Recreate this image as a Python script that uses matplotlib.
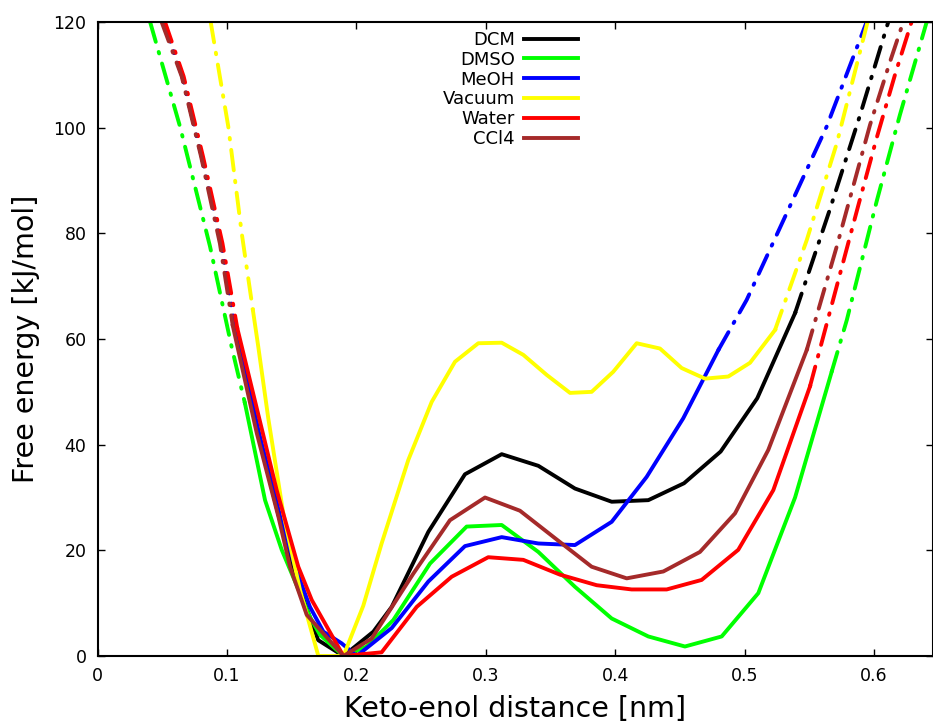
import numpy as np
import matplotlib.pyplot as plt

labels = ["DCM", "DMSO", "MeOH", "Vacuum", "Water", "CCl4"]
colors = ["black", "#00ff00", "#0000ff", "#ffff00", "#ff0000", "#a52a2a"]

# keto-enol distance [nm] / free energy [kJ/mol]
dcm_x = [0.0510, 0.0655, 0.0805, 0.0955, 0.1060, 0.1220, 0.1400, 0.1550, 0.1705, 0.1900,
         0.2131, 0.2273, 0.2556, 0.2839, 0.3123, 0.3406, 0.3689, 0.3973, 0.4256, 0.4532,
         0.4815, 0.5098, 0.5390, 0.5660, 0.5890, 0.6110]
dcm_y = [120, 109.7, 94.5, 78.1, 62.0, 44.0, 26.5, 13.5, 3.0, 0.0,
         4.6, 9.3, 23.5, 34.4, 38.2, 36.0, 31.7, 29.2, 29.5, 32.7,
         38.7, 48.8, 64.9, 84.6, 102.2, 120]

dmso_x = [0.0406, 0.0637, 0.0869, 0.1036, 0.1139, 0.1294, 0.1423, 0.1641, 0.1719, 0.1900,
          0.2080, 0.2285, 0.2569, 0.2852, 0.3123, 0.3406, 0.3689, 0.3973, 0.4256, 0.4539,
          0.4823, 0.5106, 0.5390, 0.5673, 0.5790, 0.6020, 0.6200, 0.6407]
dmso_y = [120, 100.2, 77.5, 58.5, 47.8, 29.5, 20.1, 7.4, 4.0, 0.0,
          1.8, 6.8, 17.5, 24.5, 24.8, 19.7, 13.1, 7.1, 3.7, 1.8,
          3.7, 11.9, 30.0, 53.8, 63.6, 86.0, 102.4, 120]

meoh_x = [0.0508, 0.0655, 0.0805, 0.0955, 0.1065, 0.1250, 0.1400, 0.1526, 0.1641, 0.1745,
          0.1886, 0.2002, 0.2273, 0.2556, 0.2839, 0.3123, 0.3406, 0.3689, 0.3973, 0.4243,
          0.4526, 0.4797, 0.5016, 0.5325, 0.5634, 0.5943]
meoh_y = [120, 109.7, 94.5, 78.1, 62.0, 42.0, 27.5, 16.9, 9.3, 4.6,
          2.4, 0.0, 5.3, 14.1, 20.8, 22.5, 21.3, 21.0, 25.4, 33.9,
          45.0, 57.9, 67.4, 83.8, 100.2, 120]

vac_x = [0.0874, 0.1010, 0.1114, 0.1200, 0.1242, 0.1319, 0.1435, 0.1564, 0.1706, 0.1900,
         0.2053, 0.2195, 0.2401, 0.2582, 0.2762, 0.2942, 0.3123, 0.3290, 0.3471, 0.3651,
         0.3818, 0.3985, 0.4166, 0.4346, 0.4514, 0.4694, 0.4874, 0.5042, 0.5235, 0.5480,
         0.5712, 0.5948]
vac_y = [120, 100.2, 80.0, 65.5, 58.5, 45.0, 27.0, 12.5, 0.0, 0.0,
         9.5, 21.3, 37.1, 48.1, 55.7, 59.2, 59.3, 57.0, 53.2, 49.8,
         50.0, 53.8, 59.2, 58.2, 54.5, 52.5, 52.9, 55.5, 61.7, 78.7,
         97.0, 119.8]

water_x = [0.0521, 0.0665, 0.0815, 0.0965, 0.1080, 0.1384, 0.1551, 0.1655, 0.1900, 0.2195,
           0.2466, 0.2736, 0.3019, 0.3290, 0.3573, 0.3857, 0.4127, 0.4398, 0.4668, 0.4951,
           0.5222, 0.5505, 0.5880, 0.6020, 0.6162, 0.6290]
water_y = [120, 109.7, 94.5, 78.1, 62.0, 31.4, 16.9, 10.6, 0.0, 0.7,
           9.3, 15.0, 18.7, 18.2, 15.4, 13.4, 12.6, 12.6, 14.4, 20.1,
           31.4, 51.0, 85.4, 98.0, 110.0, 120]

ccl4_x = [0.0495, 0.0650, 0.0800, 0.0945, 0.1045, 0.1230, 0.1397, 0.1487, 0.1616, 0.1900,
          0.2118, 0.2440, 0.2723, 0.2994, 0.3264, 0.3535, 0.3818, 0.4089, 0.4372, 0.4655,
          0.4926, 0.5183, 0.5480, 0.5712, 0.5969, 0.6124, 0.6226]
ccl4_y = [120, 109.7, 94.5, 78.1, 62.5, 42.2, 26.4, 16.9, 7.8, 0.0,
          3.3, 15.6, 25.7, 30.0, 27.5, 22.3, 16.9, 14.7, 16.0, 19.7,
          27.0, 39.0, 57.9, 77.5, 100.5, 112.5, 120]

# sampled range (solid); outside it the curves are dash-dotted
solid_lo = [0.1060, 0.1139, 0.1065, 0.1200, 0.1080, 0.1045]
solid_hi = [0.5390, 0.5673, 0.4797, 0.5235, 0.5505, 0.5480]

series = [(dcm_x, dcm_y), (dmso_x, dmso_y), (meoh_x, meoh_y),
          (vac_x, vac_y), (water_x, water_y), (ccl4_x, ccl4_y)]

fig = plt.figure(figsize=(9.33, 7.22), dpi=100)
ax = fig.add_axes([0.1046, 0.0914, 0.8954, 0.8781])

lw = 2.8
dashdot = (0, (5.3, 2.7, 0.4, 2.7))
for (x, y), lo, hi, c, lab in zip(series, solid_lo, solid_hi, colors, labels):
    x = np.array(x)
    y = np.array(y)
    left = x <= lo
    mid = (x >= lo) & (x <= hi)
    right = x >= hi
    ax.plot(x[left], y[left], color=c, lw=lw, linestyle=dashdot, dash_capstyle="round")
    ax.plot(x[right], y[right], color=c, lw=lw, linestyle=dashdot, dash_capstyle="round")
    ax.plot(x[mid], y[mid], color=c, lw=lw, label=lab)

ax.set_xlim(0, 0.6456)
ax.set_ylim(0, 120)
ax.set_xticks([0, 0.1, 0.2, 0.3, 0.4, 0.5, 0.6])
ax.set_xticklabels(["0", "0.1", "0.2", "0.3", "0.4", "0.5", "0.6"])
ax.set_yticks([0, 20, 40, 60, 80, 100, 120])
ax.tick_params(direction="in", length=5, width=1, top=True, right=True, labelsize=12.5)
ax.tick_params(axis="x", pad=8)
ax.tick_params(axis="y", pad=8)
for s in ax.spines.values():
    s.set_linewidth(1.5)

ax.set_xlabel("Keto-enol distance [nm]", fontsize=20.5, labelpad=7)
ax.set_ylabel("Free energy [kJ/mol]", fontsize=20.5, labelpad=10)

ax.legend(loc="upper right", bbox_to_anchor=(578 / 933, 1 - 31 / 722),
          bbox_transform=fig.transFigure, frameon=False, markerfirst=False,
          fontsize=13, handlelength=3.0, handletextpad=0.5, labelspacing=0.1,
          borderpad=0, borderaxespad=0)

fig.savefig("out.png", dpi=100)
